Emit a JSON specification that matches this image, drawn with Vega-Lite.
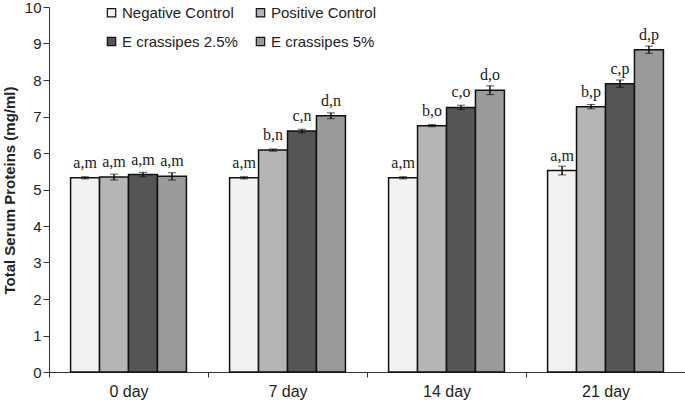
{
  "$schema": "https://vega.github.io/schema/vega-lite/v6.json",
  "autosize": {"type": "none"},
  "width": 636,
  "height": 365,
  "padding": {"left": 49, "top": 7, "right": 0, "bottom": 30},
  "background": "white",
  "config": {"view": {"stroke": null}},
  "data": {"values": [
    {"day": "0 day", "group": "Negative Control", "value": 5.32, "sd": 0.03, "label": "a,m"},
    {"day": "0 day", "group": "Positive Control", "value": 5.34, "sd": 0.08, "label": "a,m"},
    {"day": "0 day", "group": "E crassipes 2.5%", "value": 5.41, "sd": 0.06, "label": "a,m"},
    {"day": "0 day", "group": "E crassipes 5%", "value": 5.36, "sd": 0.1, "label": "a,m"},
    {"day": "7 day", "group": "Negative Control", "value": 5.32, "sd": 0.03, "label": "a,m"},
    {"day": "7 day", "group": "Positive Control", "value": 6.08, "sd": 0.03, "label": "b,n"},
    {"day": "7 day", "group": "E crassipes 2.5%", "value": 6.6, "sd": 0.05, "label": "c,n"},
    {"day": "7 day", "group": "E crassipes 5%", "value": 7.02, "sd": 0.08, "label": "d,n"},
    {"day": "14 day", "group": "Negative Control", "value": 5.32, "sd": 0.03, "label": "a,m"},
    {"day": "14 day", "group": "Positive Control", "value": 6.75, "sd": 0.03, "label": "b,o"},
    {"day": "14 day", "group": "E crassipes 2.5%", "value": 7.25, "sd": 0.06, "label": "c,o"},
    {"day": "14 day", "group": "E crassipes 5%", "value": 7.72, "sd": 0.12, "label": "d,o"},
    {"day": "21 day", "group": "Negative Control", "value": 5.52, "sd": 0.12, "label": "a,m"},
    {"day": "21 day", "group": "Positive Control", "value": 7.27, "sd": 0.06, "label": "b,p"},
    {"day": "21 day", "group": "E crassipes 2.5%", "value": 7.9, "sd": 0.1, "label": "c,p"},
    {"day": "21 day", "group": "E crassipes 5%", "value": 8.83, "sd": 0.1, "label": "d,p"}
  ]},
  "encoding": {
    "x": {"field": "day", "type": "nominal", "sort": ["0 day", "7 day", "14 day", "21 day"],
      "scale": {"paddingInner": 0, "paddingOuter": 0},
      "axis": {"title": null, "labelAngle": 0, "tickBand": "extent", "labelFont": "Arial", "labelFontSize": 16, "labelColor": "#222", "domainColor": "#333", "tickColor": "#333", "tickSize": 5, "labelPadding": 6}},
    "xOffset": {"field": "group", "type": "nominal", "sort": ["Negative Control", "Positive Control", "E crassipes 2.5%", "E crassipes 5%"],
      "scale": {"paddingInner": 0, "paddingOuter": 0.745}},
    "y": {"field": "value", "type": "quantitative", "scale": {"domain": [0, 10], "nice": false},
      "axis": {"title": "Total Serum Proteins (mg/ml)", "titleFont": "Arial", "titleFontSize": 15, "titleFontWeight": "bold", "titleColor": "#222", "titleX": -40, "titleY": 183, "titleAngle": -90, "titleAlign": "center", "titleBaseline": "middle",
        "values": [0,1,2,3,4,5,6,7,8,9,10], "grid": false, "labelFont": "Arial", "labelFontSize": 15, "labelColor": "#222", "tickSize": 6, "labelPadding": 2, "domainColor": "#333", "tickColor": "#333", "labelOverlap": false}}
  },
  "layer": [
    {
      "mark": {"type": "bar", "stroke": "#111", "strokeWidth": 1.5},
      "encoding": {
        "fill": {"field": "group", "type": "nominal", "sort": ["Negative Control", "Positive Control", "E crassipes 2.5%", "E crassipes 5%"],
          "scale": {"range": ["#f2f2f2", "#b5b5b5", "#555555", "#9a9a9a"]},
          "legend": {"title": null, "orient": "none", "legendX": 55, "legendY": -2, "direction": "horizontal", "columns": 2, "symbolType": "square", "symbolSize": 70, "symbolStrokeColor": "#111", "symbolStrokeWidth": 1.2, "labelFont": "Arial", "labelFontSize": 15, "labelColor": "#222", "labelOffset": 3, "rowPadding": 13, "columnPadding": 15}}
      }
    },
    {
      "mark": {"type": "errorbar", "ticks": {"size": 8, "color": "#111"}, "rule": {"color": "#111", "strokeWidth": 1.5}},
      "encoding": {
        "yError": {"field": "sd"}
      }
    },
    {
      "mark": {"type": "text", "font": "Liberation Serif", "fontSize": 16, "color": "#222", "baseline": "bottom", "dy": -7},
      "encoding": {
        "text": {"field": "label"}
      }
    }
  ]
}
